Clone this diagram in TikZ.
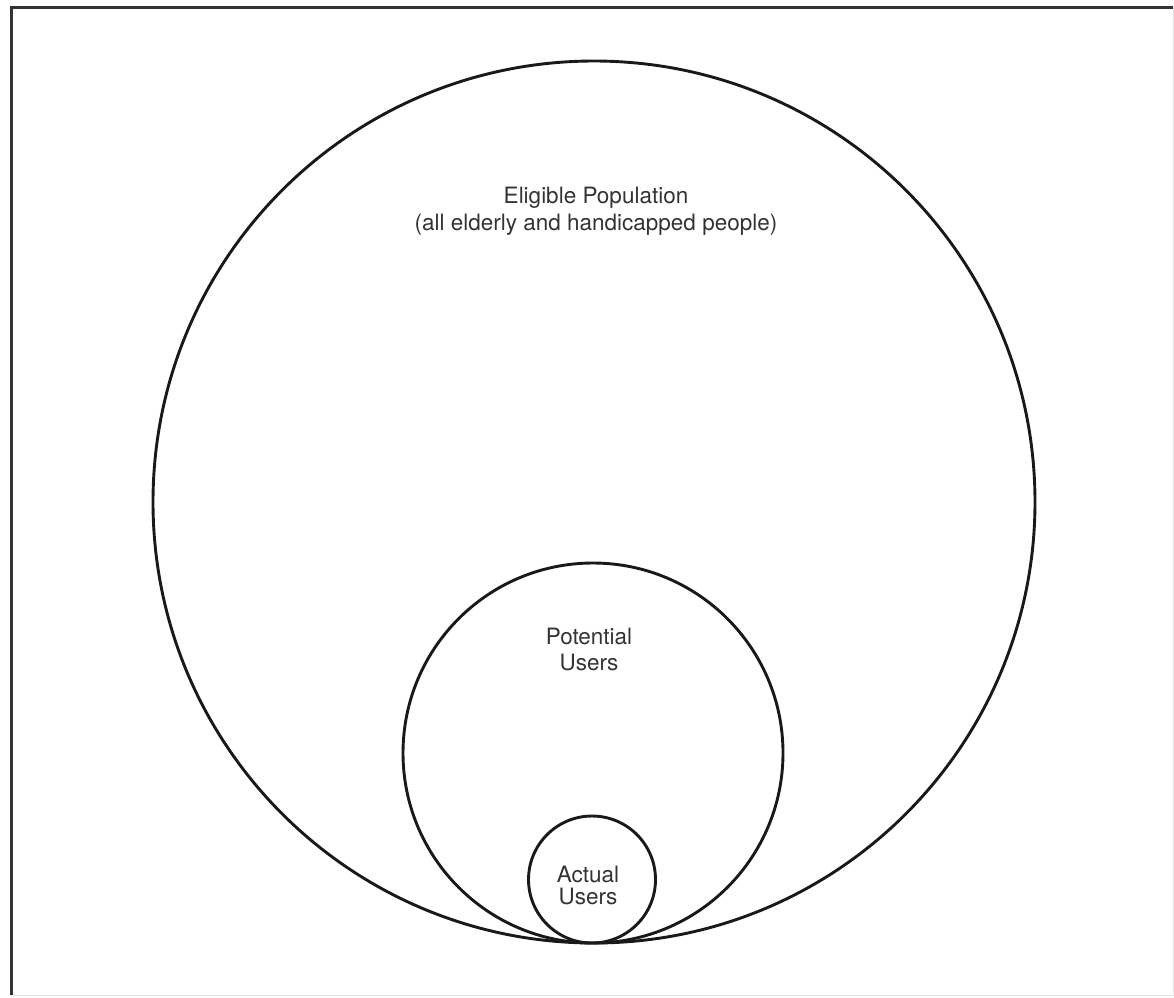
\documentclass[tikz,border=0pt]{standalone}
\usepackage{fontspec}
\setmainfont{TeX Gyre Heros}
\begin{document}
\begin{tikzpicture}[x=1pt,y=-1pt,
  ring/.style={circle, draw=black!90, line width=2.9pt, inner sep=0pt, fill=none},
  lbl/.style={anchor=base, inner sep=0pt, text=black!80, font=\fontsize{22.5}{27}\selectfont}]
\useasboundingbox (0,0) rectangle (1174,997);
% frame
\draw[line width=3pt, black!80] (11,995) -- (11,7) -- (1173,7);
\draw[line width=0.8pt, black!10] (11,995) -- (1173,995) -- (1173,7);
% circles
\node[ring, minimum size=882pt] (elig) at (594,502) {};
\node[ring, minimum size=380pt] (pot) at (593,753) {};
\node[ring, minimum size=127pt] (act) at (592,879.5) {};
% labels
\node[lbl] (elig1) at (596,203) {Eligible Population};
\node[lbl] (elig2) at (596,230) {(all elderly and handicapped people)};
\node[lbl] (pot1) at (589,644) {Potential};
\node[lbl] (pot2) at (589,670) {Users};
\node[lbl] (act1) at (588,882) {Actual};
\node[lbl] (act2) at (588,904) {Users};
\end{tikzpicture}
\end{document}
